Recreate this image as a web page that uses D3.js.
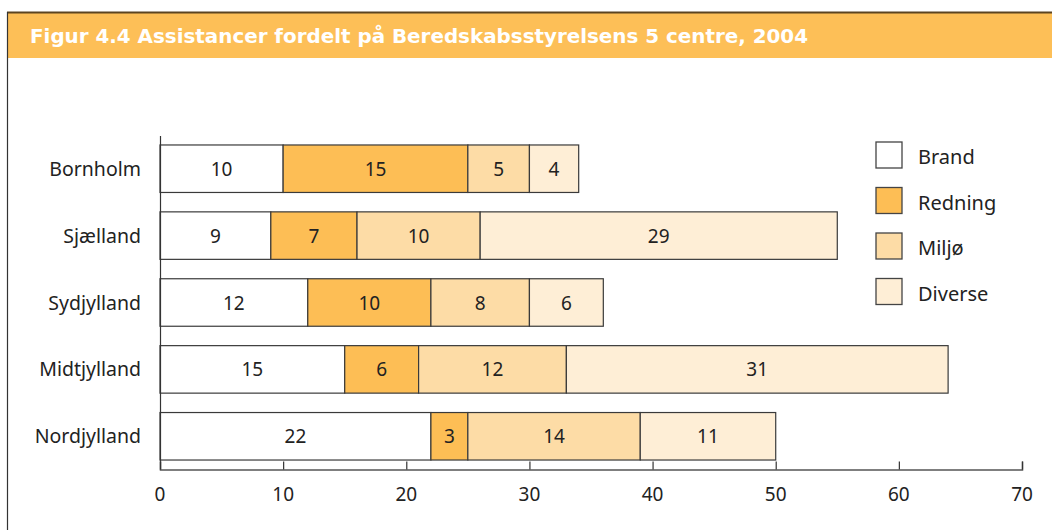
<!DOCTYPE html>
<html><head><meta charset="utf-8">
<script src="https://cdn.jsdelivr.net/npm/d3@7"></script>
<style>body{margin:0;background:#fff}svg{display:block}</style>
</head><body>
<script>
const categories = ["Bornholm","Sjælland","Sydjylland","Midtjylland","Nordjylland"];
const seriesNames = ["Brand","Redning","Miljø","Diverse"];
const brand   = [10, 9, 12, 15, 22];
const redning = [15, 7, 10, 6, 3];
const miljo   = [5, 10, 8, 12, 14];
const diverse = [4, 29, 6, 31, 11];
const xTicks = [0,10,20,30,40,50,60,70];
const colors = ["#ffffff","#fdbe55","#fddca6","#feeed6"];

const W=1052,H=530;
const svg=d3.select("body").append("svg").attr("width",W).attr("height",H);
const font="'Noto Sans', 'Open Sans', sans-serif";

// frame + header
svg.append("rect").attr("x",7).attr("y",13).attr("width",W-7).attr("height",45).attr("fill","#fdbf57");
svg.append("line").attr("x1",7).attr("x2",W).attr("y1",12.5).attr("y2",12.5).attr("stroke","#5c4420").attr("stroke-width",2);
svg.append("line").attr("x1",7.5).attr("x2",7.5).attr("y1",12).attr("y2",H).attr("stroke","#333").attr("stroke-width",1.2);
svg.append("text").attr("x",30).attr("y",43).attr("fill","#fff")
  .attr("font-family","'DejaVu Sans Condensed','DejaVu Sans',sans-serif").attr("font-weight","bold")
  .attr("font-size",19).attr("textLength",778).attr("lengthAdjust","spacingAndGlyphs")
  .text("Figur 4.4 Assistancer fordelt på Beredskabsstyrelsens 5 centre, 2004");

const x=d3.scaleLinear().domain([0,70]).range([160,1022]);
const y=d3.scaleBand().domain(categories).range([131.6,473.4]).paddingInner(0.29).paddingOuter(0.2);

const data=categories.map((c,i)=>({cat:c,Brand:brand[i],Redning:redning[i],"Miljø":miljo[i],Diverse:diverse[i]}));
const stack=d3.stack().keys(seriesNames)(data);

const g=svg.append("g");
stack.forEach((s,si)=>{
  s.forEach(d=>{
    g.append("rect").attr("x",x(d[0])).attr("y",y(d.data.cat)).attr("width",x(d[1])-x(d[0])).attr("height",y.bandwidth())
      .attr("fill",colors[si]).attr("stroke","#3a3a3a").attr("stroke-width",1.2);
    g.append("text").attr("x",(x(d[0])+x(d[1]))/2).attr("y",y(d.data.cat)+y.bandwidth()/2+7)
      .attr("text-anchor","middle").attr("font-family",font).attr("font-size",19).attr("fill","#222")
      .text(d.data[s.key]);
  });
});

// category labels
categories.forEach(c=>{
  svg.append("text").attr("x",141).attr("y",y(c)+y.bandwidth()/2+7).attr("text-anchor","end")
    .attr("font-family",font).attr("font-size",19.5).attr("fill","#222").text(c);
});

// y axis line
svg.append("line").attr("x1",160.5).attr("x2",160.5).attr("y1",136).attr("y2",470).attr("stroke","#333").attr("stroke-width",1.2);

// x axis
const xa=svg.append("g").attr("transform","translate(0,469.5)")
  .call(d3.axisTop(x).tickValues(xTicks).tickSize(8).tickFormat(""));
xa.select(".domain").attr("stroke","#555").attr("stroke-width",1.5);
xa.selectAll(".tick line").attr("stroke","#333").attr("stroke-width",1.2);
xTicks.forEach(t=>{
  svg.append("text").attr("x",x(t)).attr("y",501).attr("text-anchor","middle")
    .attr("font-family",font).attr("font-size",19).attr("fill","#222").text(t);
});

// legend
seriesNames.forEach((n,i)=>{
  const ly=142+i*45.5;
  svg.append("rect").attr("x",876).attr("y",ly).attr("width",26).attr("height",26)
    .attr("fill",colors[i]).attr("stroke","#444").attr("stroke-width",1.3);
  svg.append("text").attr("x",918).attr("y",ly+22).attr("font-family",font).attr("font-size",20).attr("fill","#222").text(n);
});
</script>
</body></html>
